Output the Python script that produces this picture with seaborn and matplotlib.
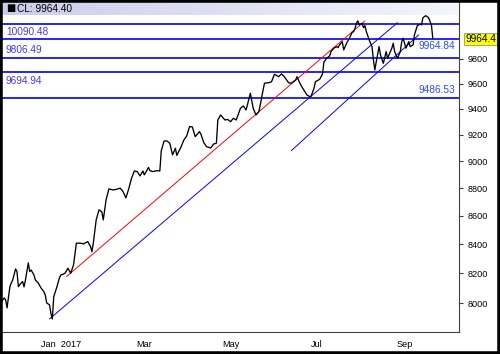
import numpy as np
import pandas as pd
import matplotlib
matplotlib.use("Agg")
import matplotlib.pyplot as plt
from matplotlib.patches import Rectangle
from matplotlib.ticker import NullLocator
import seaborn as sns

# daily closes
dates = [
    "2016-11-20", "2016-11-22", "2016-11-23", "2016-11-24", "2016-11-26", "2016-11-27",
    "2016-11-28", "2016-11-30", "2016-12-01", "2016-12-02", "2016-12-04", "2016-12-05",
    "2016-12-06", "2016-12-07", "2016-12-09", "2016-12-10", "2016-12-11", "2016-12-13",
    "2016-12-14", "2016-12-16", "2016-12-18", "2016-12-20", "2016-12-21", "2016-12-22",
    "2016-12-24", "2016-12-25", "2016-12-26", "2016-12-27", "2016-12-29", "2016-12-31",
    "2017-01-01", "2017-01-03", "2017-01-04", "2017-01-06", "2017-01-08", "2017-01-10",
    "2017-01-12", "2017-01-15", "2017-01-17", "2017-01-20", "2017-01-22", "2017-01-23",
    "2017-01-24", "2017-01-26", "2017-01-28", "2017-01-30", "2017-01-31", "2017-02-02",
    "2017-02-04", "2017-02-07", "2017-02-09", "2017-02-12", "2017-02-14", "2017-02-16",
    "2017-02-18", "2017-02-20", "2017-02-22", "2017-02-24", "2017-02-26", "2017-02-28",
    "2017-03-01", "2017-03-04", "2017-03-05", "2017-03-07", "2017-03-10", "2017-03-12",
    "2017-03-13", "2017-03-15", "2017-03-17", "2017-03-19", "2017-03-21", "2017-03-23",
    "2017-03-24", "2017-03-27", "2017-03-29", "2017-03-31", "2017-04-02", "2017-04-04",
    "2017-04-06", "2017-04-09", "2017-04-10", "2017-04-12", "2017-04-14", "2017-04-17",
    "2017-04-19", "2017-04-21", "2017-04-22", "2017-04-24", "2017-04-27", "2017-04-29",
    "2017-05-01", "2017-05-03", "2017-05-05", "2017-05-08", "2017-05-10", "2017-05-12",
    "2017-05-15", "2017-05-17", "2017-05-19", "2017-05-21", "2017-05-22", "2017-05-24",
    "2017-05-25", "2017-05-28", "2017-05-30", "2017-06-01", "2017-06-04", "2017-06-06",
    "2017-06-08", "2017-06-11", "2017-06-13", "2017-06-16", "2017-06-17", "2017-06-19",
    "2017-06-21", "2017-06-24", "2017-06-26", "2017-06-27", "2017-06-29", "2017-06-30",
    "2017-07-03", "2017-07-05", "2017-07-06", "2017-07-08", "2017-07-10", "2017-07-11",
    "2017-07-13", "2017-07-15", "2017-07-16", "2017-07-17", "2017-07-19", "2017-07-20",
    "2017-07-22", "2017-07-24", "2017-07-26", "2017-07-27", "2017-07-28", "2017-07-29",
    "2017-07-30", "2017-07-31", "2017-08-02", "2017-08-03", "2017-08-04", "2017-08-05",
    "2017-08-07", "2017-08-09", "2017-08-10", "2017-08-11", "2017-08-12", "2017-08-14",
    "2017-08-15", "2017-08-17", "2017-08-19", "2017-08-20", "2017-08-22", "2017-08-23",
    "2017-08-24", "2017-08-25", "2017-08-27", "2017-08-29", "2017-08-30", "2017-08-31",
    "2017-09-02", "2017-09-04", "2017-09-05", "2017-09-07", "2017-09-08", "2017-09-10",
    "2017-09-12", "2017-09-13", "2017-09-14", "2017-09-16", "2017-09-18", "2017-09-20",
    "2017-09-21",
]
close = [
    8010, 8034, 8021, 7968, 8110, 8135,
    8155, 8230, 8212, 8110, 8135, 8144,
    8108, 8155, 8271, 8212, 8223, 8189,
    8155, 8135, 8101, 8076, 8054, 8001,
    7988, 7933, 7895, 8043, 8101, 8169,
    8189, 8196, 8201, 8235, 8201, 8258,
    8408, 8408, 8403, 8419, 8384, 8349,
    8410, 8572, 8644, 8629, 8572, 8716,
    8796, 8788, 8792, 8801, 8776, 8730,
    8796, 8874, 8928, 8923, 8891, 8928,
    8899, 8954, 8930, 8923, 8930, 8928,
    9078, 9153, 9153, 9136, 9048, 9098,
    9044, 9108, 9161, 9191, 9263, 9260,
    9186, 9224, 9207, 9142, 9110, 9100,
    9130, 9136, 9314, 9353, 9314, 9318,
    9301, 9327, 9314, 9405, 9423, 9392,
    9523, 9405, 9353, 9379, 9431, 9549,
    9603, 9607, 9615, 9675, 9655, 9677,
    9655, 9607, 9603, 9629, 9655, 9603,
    9563, 9510, 9496, 9501, 9563, 9615,
    9634, 9677, 9774, 9804, 9823, 9858,
    9886, 9899, 9891, 9913, 9940, 9872,
    9927, 9968, 10018, 10023, 10051, 10093,
    10113, 10079, 10093, 10056, 10073, 10023,
    9954, 9899, 9790, 9709, 9776, 9899,
    9831, 9763, 9858, 9804, 9858, 9886,
    9927, 9858, 9804, 9858, 9940, 9968,
    9886, 9940, 9899, 9913, 9996, 10073,
    10085, 10079, 10140, 10157, 10140, 10079,
    9964.4,
]

# horizontal support / resistance levels
levels = [10090.48, 9964.84, 9806.49, 9694.94, 9486.53]
level_labels = ["10090.48", "9964.84", "9806.49", "9694.94", "9486.53"]
level_sides = ["left", "right", "left", "left", "right"]
level_dy = [-8, -7, 8, -9, 8]

# trend lines (start, end)
red_dates = ["2017-01-05", "2017-08-04"]
red_vals = [8178, 10113]
chan1_dates = ["2016-12-24", "2017-08-27"]
chan1_vals = [7895, 10098]
chan2_dates = ["2017-06-13", "2017-09-11"]
chan2_vals = [9080, 9996]

yticks = [8000, 8200, 8400, 8600, 8800, 9000, 9200, 9400, 9600, 9800]
month_ticks = pd.date_range("2016-12-01", "2017-10-01", freq="MS")
month_labels = ["", "Jan  2017", "", "Mar", "", "May", "", "Jul", "", "Sep", ""]
last_value = 9964.4
title = "CL: 9964.40"

sns.set_theme(style="white")
plt.rcParams["font.family"] = ["Liberation Sans", "DejaVu Sans"]

W, H = 500, 354
fig = plt.figure(figsize=(W / 100, H / 100), dpi=100)
fig.patch.set_facecolor("white")
ax = fig.add_axes([2 / W, 22 / H, 457 / W, 330 / H])
ax.set_facecolor("white")

for lv in levels:
    ax.axhline(lv, color="#0000ff", linewidth=1.2, zorder=1)

sns.lineplot(x=pd.to_datetime(red_dates), y=red_vals, color="#ff0000", linewidth=0.7, ax=ax, zorder=2)
sns.lineplot(x=pd.to_datetime(chan1_dates), y=chan1_vals, color="#0000ff", linewidth=0.7, ax=ax, zorder=2)
sns.lineplot(x=pd.to_datetime(chan2_dates), y=chan2_vals, color="#0000ff", linewidth=0.7, ax=ax, zorder=2)

price = pd.DataFrame({"date": pd.to_datetime(dates), "close": close})
sns.lineplot(data=price, x="date", y="close", color="black", linewidth=0.95, ax=ax, zorder=3)

ax.set_yscale("log")
ax.set_ylim(7810, 10273)
ax.set_xlim(pd.Timestamp("2016-11-20 10:00"), pd.Timestamp("2017-10-09 12:00"))

ax.yaxis.tick_right()
ax.set_yticks(yticks, labels=[str(t) for t in yticks])
ax.yaxis.set_minor_locator(NullLocator())
ax.set_xticks(month_ticks, labels=month_labels)
ax.tick_params(axis="both", length=3, width=0.8, color="#404040", labelsize=6.6,
               labelcolor="black", direction="out")
ax.tick_params(axis="y", pad=3.5)
ax.tick_params(axis="x", pad=2.5)
ax.set_xlabel("")
ax.set_ylabel("")
for s in ["left", "top"]:
    ax.spines[s].set_visible(False)
for s in ["bottom", "right"]:
    ax.spines[s].set_color("#404040")
    ax.spines[s].set_linewidth(0.8)

for lv, lab, side, dy in zip(levels, level_labels, level_sides, level_dy):
    if side == "left":
        ax.annotate(lab, xy=(0, lv), xycoords=("axes fraction", "data"), xytext=(4, dy),
                    textcoords="offset pixels", ha="left", va="center", fontsize=7.3,
                    color="#4b36e8", zorder=4)
    else:
        ax.annotate(lab, xy=(1, lv), xycoords=("axes fraction", "data"), xytext=(-4, dy),
                    textcoords="offset pixels", ha="right", va="center", fontsize=7.3,
                    color="#2a4bff", zorder=4)

ax.annotate(f"{last_value}", xy=(1, last_value), xycoords=("axes fraction", "data"),
            xytext=(6, 0), textcoords="offset pixels", ha="left", va="center",
            fontsize=7.3, color="black", annotation_clip=False,
            bbox=dict(boxstyle="square,pad=0.12", fc="#ffff00", ec="#909090", lw=0.6))

# title strip with gradient
band = fig.add_axes([2 / W, (H - 15) / H, 457 / W, 13 / H])
c0 = np.array([0.80, 0.80, 0.92])
c1 = np.array([0.96, 0.96, 0.99])
t = np.linspace(0, 1, 256)[None, :, None]
band.imshow(c0 + (c1 - c0) * t, aspect="auto", extent=[0, 1, 0, 1])
band.axis("off")
fig.text(6 / W, (H - 8.5) / H, "\u25a0", fontsize=7, color="black", va="center", ha="left",
         family=["DejaVu Sans"])
fig.text(17 / W, (H - 8.5) / H, title, fontsize=7.3, color="black", va="center", ha="left")

fig.patches.append(Rectangle((0, 0), 1, 1, transform=fig.transFigure, fill=False,
                             edgecolor="black", linewidth=4))

fig.savefig("out.png", dpi=100)
